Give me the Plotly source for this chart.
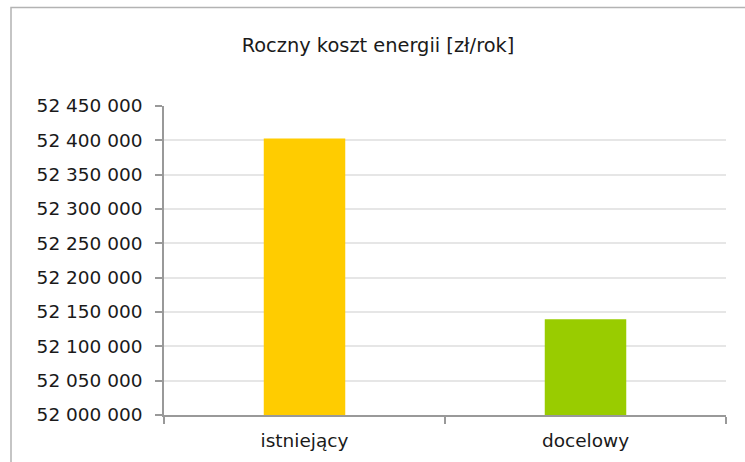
import plotly.graph_objects as go

# Annual energy cost per variant
categories = ["istniejący", "docelowy"]
costs = [52402600, 52139500]
bar_colors = ["#FFCC00", "#99CC00"]

# Value axis ticks with space as thousands separator
tick_values = [52000000 + 50000 * i for i in range(10)]
tick_labels = [f"{v:,}".replace(",", " ") for v in tick_values]

FONT = "DejaVu Sans"
TEXT = "#1a1a1a"
AXIS = "#999999"

fig = go.Figure(
    go.Bar(
        x=categories,
        y=costs,
        marker=dict(color=bar_colors, line=dict(width=0)),
        width=0.29,
    )
)

fig.update_layout(
    width=745,
    height=462,
    margin=dict(l=164, r=19, t=106, b=47),
    paper_bgcolor="white",
    plot_bgcolor="white",
    showlegend=False,
    font=dict(family=FONT, size=18.5, color=TEXT),
    title=dict(
        text="Roczny koszt energii [zł/rok]",
        x=378 / 745,
        xanchor="center",
        xref="container",
        y=1 - 45 / 462,
        yanchor="middle",
        yref="container",
        font=dict(family=FONT, size=19.4, color=TEXT),
    ),
    yaxis=dict(
        range=[52000000, 52450000],
        tickvals=tick_values,
        ticktext=tick_labels,
        showgrid=True,
        gridcolor="#e6e6e6",
        gridwidth=1.5,
        showline=True,
        linecolor=AXIS,
        linewidth=1.5,
        ticks="outside",
        ticklen=7,
        tickcolor=AXIS,
        tickwidth=1.5,
        ticklabelstandoff=9,
        zeroline=False,
    ),
    xaxis=dict(
        showline=True,
        linecolor=AXIS,
        linewidth=1.5,
        ticks="outside",
        tickson="boundaries",
        ticklen=7,
        tickcolor=AXIS,
        tickwidth=1.5,
        ticklabelstandoff=8,
        showgrid=False,
    ),
    shapes=[
        # Chart-area frame
        dict(
            type="rect",
            xref="paper",
            yref="paper",
            x0=(11 - 164) / 562,
            x1=2,
            y0=-1,
            y1=(415.3 - 7) / 309.6,
            line=dict(color="#b3b3b3", width=1.5),
            fillcolor="rgba(0,0,0,0)",
            layer="below",
        )
    ],
)

fig.write_html("out.html")
